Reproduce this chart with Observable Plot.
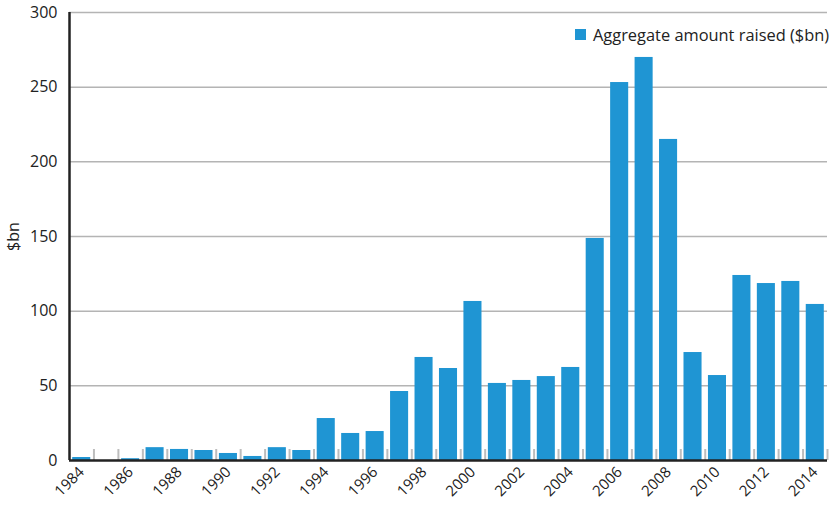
<!DOCTYPE html>
<html>
<head>
<meta charset="utf-8">
<script src="https://cdn.jsdelivr.net/npm/d3@7"></script>
<script src="https://cdn.jsdelivr.net/npm/@observablehq/plot@0.6"></script>
<style>
  html, body { margin: 0; padding: 0; background: #fff; }
  #wrap { position: relative; width: 834px; height: 505px; font-family: "Open Sans", sans-serif; }
  #legend { position: absolute; left: 575px; top: 23px; display: flex; align-items: center; font-size: 16.4px; color: #222; white-space: nowrap; }
  #legend .sw { width: 11px; height: 11px; background: #1f95d3; margin-right: 7px; }
</style>
</head>
<body>
<div id="wrap">
  <div id="chart"></div>
  <div id="legend"><span class="sw"></span><span>Aggregate amount raised ($bn)</span></div>
</div>
<script>
const years = [1984,1985,1986,1987,1988,1989,1990,1991,1992,1993,1994,1995,1996,1997,1998,1999,2000,2001,2002,2003,2004,2005,2006,2007,2008,2009,2010,2011,2012,2013,2014];
const amounts = [2.0,0,1.2,8.6,7.4,6.7,4.7,2.7,8.6,6.7,28.1,18.1,19.4,46.2,69.0,61.6,106.5,51.6,53.6,56.2,62.3,148.7,253.1,269.9,215.0,72.3,56.9,123.9,118.5,119.9,104.5];
const yTicks = [0,50,100,150,200,250,300];
const xTicks = [1984,1986,1988,1990,1992,1994,1996,1998,2000,2002,2004,2006,2008,2010,2012,2014];
const seriesName = "Aggregate amount raised ($bn)";
const yLabel = "$bn";

const data = years.map((year, i) => ({year, value: amounts[i]}));
const barColor = "#1f95d3";

const chart = Plot.plot({
  width: 834,
  height: 505,
  marginLeft: 69,
  marginRight: 7,
  marginTop: 12,
  marginBottom: 45,
  style: {fontFamily: "Open Sans, sans-serif", background: "#fff", color: "#222"},
  x: {domain: [years[0] - 0.5, years[years.length - 1] + 0.5]},
  y: {domain: [0, 300]},
  marks: [
    Plot.ruleY(yTicks.filter(d => d > 0), {stroke: "#b4b4b4", strokeWidth: 1.5}),
    Plot.rectY(data, {x1: d => d.year - 0.5, x2: d => d.year + 0.5, y: "value", fill: barColor, insetLeft: 3.2, insetRight: 3.2}),
    Plot.ruleX(years, {x: d => d + 0.5, y1: 0, y2: 0, insetTop: -11, stroke: "#bdbdbd", strokeWidth: 2}),
    Plot.axisY({ticks: yTicks, tickSize: 0, tickPadding: 12, fontSize: 16, label: yLabel, labelAnchor: "center", labelArrow: "none", labelOffset: 62, tickFormat: d => String(d)}),
    Plot.axisX({ticks: xTicks, tickSize: 0, tickPadding: 9, tickRotate: -45, fontSize: 15, label: null, tickFormat: d => String(d)}),
    Plot.ruleX([years[0] - 0.5], {stroke: "#222", strokeWidth: 2.5}),
    Plot.ruleY([0], {stroke: "#222", strokeWidth: 2.5})
  ]
});
document.getElementById("chart").appendChild(chart);
</script>
</body>
</html>
